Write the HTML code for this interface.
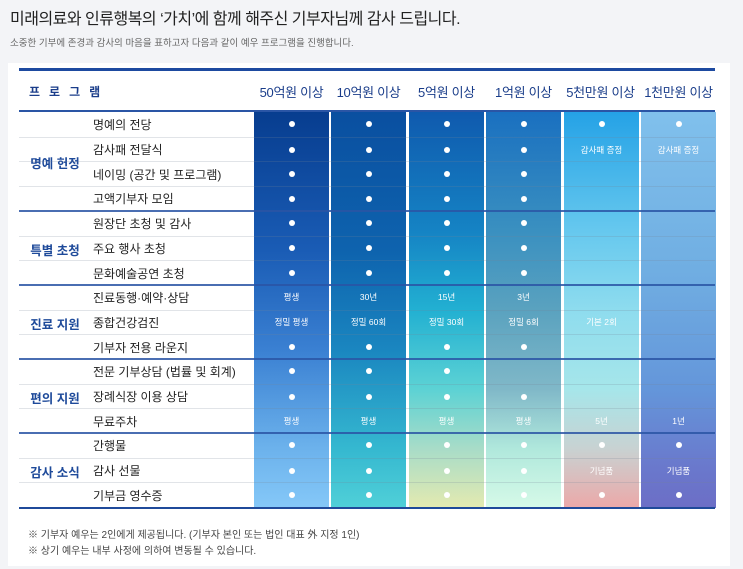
<!DOCTYPE html>
<html><head><meta charset="utf-8"><style>
*{margin:0;padding:0;box-sizing:border-box}
body{width:743px;height:569px;background:#f3f4f7;font-family:"Liberation Sans","Noto Sans CJK KR",sans-serif;position:relative;overflow:hidden}
.t1{position:absolute;left:10px;top:5px;font-size:16px;color:#222;letter-spacing:-0.5px}
.t2{position:absolute;left:10px;top:35px;font-size:9.5px;color:#666}
.card{position:absolute;left:8px;top:63px;width:722px;height:503px;background:#fff}
.col{position:absolute;top:112px;height:396px;width:75px}
.hline{position:absolute;left:19px;width:696px}
.hdr{position:absolute;top:72px;height:38px;font-size:13px;color:#1a3d8a;display:flex;align-items:center;justify-content:center;width:77px;letter-spacing:-0.3px}
.row{position:absolute;left:19px;width:696px;height:24.7px;display:flex;align-items:center}
.row .it{position:absolute;left:74px;font-size:12px;color:#222}
.c{position:absolute;width:75px;text-align:center;color:#fff;font-size:8.5px}
.d{display:inline-block;width:6px;height:6px;border-radius:50%;background:#fff}
.g{position:absolute;left:19px;width:72px;text-align:center;font-size:12.5px;font-weight:bold;color:#1e4a9a}
.n{position:absolute;left:28px;font-size:10px;color:#444}
.bt{border-top:1px solid rgba(120,130,150,0.22)}
</style></head><body>
<div class="t1">미래의료와 인류행복의 ‘가치’에 함께 해주신 기부자님께 감사 드립니다.</div>
<div class="t2">소중한 기부에 존경과 감사의 마음을 표하고자 다음과 같이 예우 프로그램을 진행합니다.</div>
<div class="card"></div>
<div class="hline" style="top:68px;height:3px;background:#1d4aa0"></div>
<div class="hdr" style="left:19px;width:120px;justify-content:flex-start;padding-left:10px;font-weight:bold;letter-spacing:9px;font-size:12px">프로그램</div>
<div class="hdr" style="left:253px">50억원 이상</div>
<div class="hdr" style="left:330px">10억원 이상</div>
<div class="hdr" style="left:408px">5억원 이상</div>
<div class="hdr" style="left:485px">1억원 이상</div>
<div class="hdr" style="left:562px">5천만원 이상</div>
<div class="hdr" style="left:640px">1천만원 이상</div>

<div class="col" style="left:254px;background:linear-gradient(#073d8f,#1a5cb5 35%,#3a80d2 60%,#6cb2ec 85%,#85c8f8)"></div>
<div class="col" style="left:331px;background:linear-gradient(#0a4fa0,#0e63ae 35%,#1a86c0 60%,#35b8d0 85%,#50d0d8)"></div>
<div class="col" style="left:409px;background:linear-gradient(#0f5aae,#1583c4 30%,#22b0d2 50%,#5cd2d4 70%,#a8dcc8 85%,#e4eab0)"></div>
<div class="col" style="left:486px;background:linear-gradient(#1a70c0,#3a90c0 30%,#5aa2bf 50%,#80b8c8 70%,#b0e8dc 85%,#d6fae8)"></div>
<div class="col" style="left:564px;background:linear-gradient(#25a2e6,#66c8ee 30%,#8edcee 50%,#a6e6ea 70%,#c8d2d2 85%,#eca8a8)"></div>
<div class="col" style="left:641px;background:linear-gradient(#80c0ec,#70aee2 40%,#6496da 70%,#6a78cc 90%,#6c6ec6)"></div>

<div class="hline" style="top:110px;height:2px;background:#2a55a5"></div>
<div class="hline" style="top:210px;height:2px;background:#2a55a5;opacity:.85"></div>
<div class="hline" style="top:284px;height:2px;background:#2a55a5;opacity:.85"></div>
<div class="hline" style="top:358px;height:2px;background:#2a55a5;opacity:.85"></div>
<div class="hline" style="top:432px;height:2px;background:#2a55a5;opacity:.85"></div>
<div class="hline" style="top:507px;height:2px;background:#1f4a9a"></div>

<div class="g" style="top:153px">명예 헌정</div>
<div class="g" style="top:240px">특별 초청</div>
<div class="g" style="top:314px">진료 지원</div>
<div class="g" style="top:388px">편의 지원</div>
<div class="g" style="top:462px">감사 소식</div>

<div class="row" style="top:112px"><span class="it">명예의 전당</span><span class="c" style="left:235px"><i class="d"></i></span><span class="c" style="left:312px"><i class="d"></i></span><span class="c" style="left:390px"><i class="d"></i></span><span class="c" style="left:467px"><i class="d"></i></span><span class="c" style="left:545px"><i class="d"></i></span><span class="c" style="left:622px"><i class="d"></i></span></div>
<div class="row bt" style="top:136.7px"><span class="it">감사패 전달식</span><span class="c" style="left:235px"><i class="d"></i></span><span class="c" style="left:312px"><i class="d"></i></span><span class="c" style="left:390px"><i class="d"></i></span><span class="c" style="left:467px"><i class="d"></i></span><span class="c" style="left:545px">감사패 증정</span><span class="c" style="left:622px">감사패 증정</span></div>
<div class="row bt" style="top:161.4px"><span class="it">네이밍 (공간 및 프로그램)</span><span class="c" style="left:235px"><i class="d"></i></span><span class="c" style="left:312px"><i class="d"></i></span><span class="c" style="left:390px"><i class="d"></i></span><span class="c" style="left:467px"><i class="d"></i></span></div>
<div class="row bt" style="top:186.1px"><span class="it">고액기부자 모임</span><span class="c" style="left:235px"><i class="d"></i></span><span class="c" style="left:312px"><i class="d"></i></span><span class="c" style="left:390px"><i class="d"></i></span><span class="c" style="left:467px"><i class="d"></i></span></div>
<div class="row" style="top:211px"><span class="it">원장단 초청 및 감사</span><span class="c" style="left:235px"><i class="d"></i></span><span class="c" style="left:312px"><i class="d"></i></span><span class="c" style="left:390px"><i class="d"></i></span><span class="c" style="left:467px"><i class="d"></i></span></div>
<div class="row bt" style="top:235.5px"><span class="it">주요 행사 초청</span><span class="c" style="left:235px"><i class="d"></i></span><span class="c" style="left:312px"><i class="d"></i></span><span class="c" style="left:390px"><i class="d"></i></span><span class="c" style="left:467px"><i class="d"></i></span></div>
<div class="row bt" style="top:260.2px"><span class="it">문화예술공연 초청</span><span class="c" style="left:235px"><i class="d"></i></span><span class="c" style="left:312px"><i class="d"></i></span><span class="c" style="left:390px"><i class="d"></i></span><span class="c" style="left:467px"><i class="d"></i></span></div>
<div class="row" style="top:285px"><span class="it">진료동행·예약·상담</span><span class="c" style="left:235px">평생</span><span class="c" style="left:312px">30년</span><span class="c" style="left:390px">15년</span><span class="c" style="left:467px">3년</span></div>
<div class="row bt" style="top:309.6px"><span class="it">종합건강검진</span><span class="c" style="left:235px">정밀 평생</span><span class="c" style="left:312px">정밀 60회</span><span class="c" style="left:390px">정밀 30회</span><span class="c" style="left:467px">정밀 6회</span><span class="c" style="left:545px">기본 2회</span></div>
<div class="row bt" style="top:334.3px"><span class="it">기부자 전용 라운지</span><span class="c" style="left:235px"><i class="d"></i></span><span class="c" style="left:312px"><i class="d"></i></span><span class="c" style="left:390px"><i class="d"></i></span><span class="c" style="left:467px"><i class="d"></i></span></div>
<div class="row" style="top:359px"><span class="it">전문 기부상담 (법률 및 회계)</span><span class="c" style="left:235px"><i class="d"></i></span><span class="c" style="left:312px"><i class="d"></i></span><span class="c" style="left:390px"><i class="d"></i></span></div>
<div class="row bt" style="top:383.7px"><span class="it">장례식장 이용 상담</span><span class="c" style="left:235px"><i class="d"></i></span><span class="c" style="left:312px"><i class="d"></i></span><span class="c" style="left:390px"><i class="d"></i></span><span class="c" style="left:467px"><i class="d"></i></span></div>
<div class="row bt" style="top:408.4px"><span class="it">무료주차</span><span class="c" style="left:235px">평생</span><span class="c" style="left:312px">평생</span><span class="c" style="left:390px">평생</span><span class="c" style="left:467px">평생</span><span class="c" style="left:545px">5년</span><span class="c" style="left:622px">1년</span></div>
<div class="row" style="top:433px"><span class="it">간행물</span><span class="c" style="left:235px"><i class="d"></i></span><span class="c" style="left:312px"><i class="d"></i></span><span class="c" style="left:390px"><i class="d"></i></span><span class="c" style="left:467px"><i class="d"></i></span><span class="c" style="left:545px"><i class="d"></i></span><span class="c" style="left:622px"><i class="d"></i></span></div>
<div class="row bt" style="top:457.7px"><span class="it">감사 선물</span><span class="c" style="left:235px"><i class="d"></i></span><span class="c" style="left:312px"><i class="d"></i></span><span class="c" style="left:390px"><i class="d"></i></span><span class="c" style="left:467px"><i class="d"></i></span><span class="c" style="left:545px">기념품</span><span class="c" style="left:622px">기념품</span></div>
<div class="row bt" style="top:482.4px"><span class="it">기부금 영수증</span><span class="c" style="left:235px"><i class="d"></i></span><span class="c" style="left:312px"><i class="d"></i></span><span class="c" style="left:390px"><i class="d"></i></span><span class="c" style="left:467px"><i class="d"></i></span><span class="c" style="left:545px"><i class="d"></i></span><span class="c" style="left:622px"><i class="d"></i></span></div>

<div class="n" style="top:526px">※ 기부자 예우는 2인에게 제공됩니다. (기부자 본인 또는 법인 대표 外 지정 1인)</div>
<div class="n" style="top:542px">※ 상기 예우는 내부 사정에 의하여 변동될 수 있습니다.</div>
</body></html>
